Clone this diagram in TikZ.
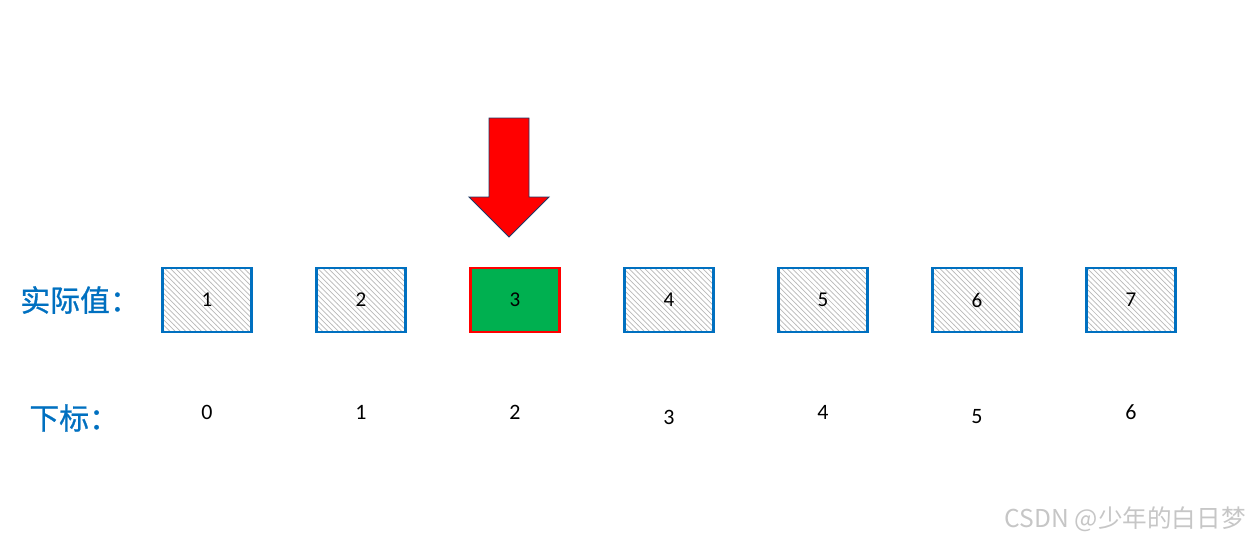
\documentclass[tikz,border=0pt]{standalone}
\usepackage{fontspec}
\setmainfont{Carlito}
\newfontfamily\cjk{Noto Sans CJK SC}
\newfontfamily\cjkm[FakeBold=0.8]{Noto Sans CJK SC}
\usetikzlibrary{patterns}
\definecolor{boxblue}{HTML}{0070C0}
\definecolor{mygreen}{HTML}{00B050}
\definecolor{navy}{HTML}{1F3864}
\tikzset{
  cell/.style={draw=boxblue, line width=1.2pt, minimum width=1.78cm, minimum height=1.28cm,
    preaction={fill=white}, preaction={pattern=north west lines, pattern color=gray!55}, font=\fontsize{12}{14}\selectfont, inner sep=0pt},
  hot/.style={draw=red, line width=1.6pt, minimum width=1.78cm, minimum height=1.28cm, fill=mygreen, font=\fontsize{12}{14}\selectfont, inner sep=0pt},
  idx/.style={font=\fontsize{12.5}{14}\selectfont, inner sep=0pt},
  lab/.style={font=\cjkm\fontsize{17}{20}\selectfont, text=boxblue, inner sep=0pt, anchor=west},
}
\begin{document}
\begin{tikzpicture}[x=0.02cm, y=-0.02cm]
\useasboundingbox (0,0) rectangle (1250,541);
\foreach \i/\x in {1/207, 2/361, 4/669, 5/823, 6/977, 7/1131} {
  \node[cell] (c\i) at (\x,300) {\i};
}
\node[hot] (c3) at (515,300) {3};
\foreach \i/\x/\y in {0/207/412, 1/361/412, 2/515/412, 3/669/417, 4/823/412, 5/977/417, 6/1131/412} {
  \node[idx] (d\i) at (\x,\y) {\i};
}
\node[lab] (l1) at (20,300) {实际值：};
\node[lab] (l2) at (29,418) {下标：};
\draw[fill=red, draw=navy, line width=0.5pt] (489,118) -- (529,118) -- (529,197) -- (549,197) -- (509,237) -- (469,197) -- (489,197) -- cycle;
\node[font=\cjk\fontsize{14}{16}\selectfont, text=gray!45, anchor=east, inner sep=0pt] (wm) at (1246,519) {CSDN @少年的白日梦};
\end{tikzpicture}
\end{document}
